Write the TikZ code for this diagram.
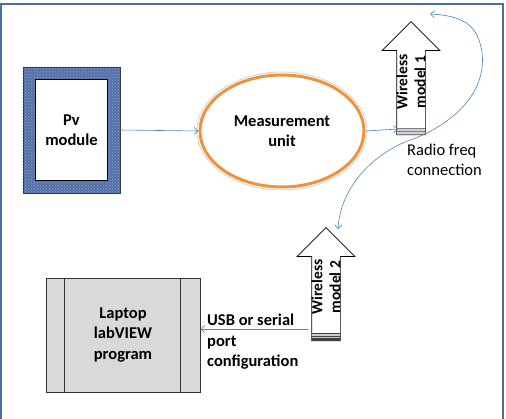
\documentclass[tikz,border=0pt]{standalone}
\usepackage{fontspec}
\setmainfont{Carlito}
\usetikzlibrary{arrows.meta,patterns,shapes.geometric,shapes.arrows,calc,positioning}
\definecolor{linkblue}{HTML}{4F81BD}
\definecolor{framblue}{HTML}{4A6FA0}
\definecolor{pvblue}{HTML}{5470A8}
\definecolor{pvdots}{HTML}{8FA4CE}
\definecolor{muorange}{HTML}{F0923C}
\definecolor{lapgray}{HTML}{D9D9D9}
\tikzset{>={Straight Barb[length=4pt,width=7pt]}}
\tikzset{
  link/.style={draw=linkblue,line width=0.6pt},
  lbl/.style={font=\fontsize{16.5}{20.5}\selectfont\bfseries,align=center,inner sep=0pt},
  pvframe/.style={draw=black!80,line width=0.8pt,fill=pvblue,minimum width=97pt,minimum height=126pt,inner sep=0pt},
  pvinner/.style={draw=black,line width=0.8pt,fill=white,minimum width=72pt,minimum height=101pt,inner sep=0pt},
  munit/.style={ellipse,draw=muorange,line width=3pt,minimum width=164pt,minimum height=112pt,inner sep=0pt},
  laptop/.style={draw=black!80,line width=0.7pt,fill=lapgray,minimum width=154pt,minimum height=114pt,inner sep=0pt},
  wireless/.style={single arrow,draw=black,line width=0.7pt,fill=white,rotate=90,
    inner xsep=0pt,inner ysep=14pt,minimum height=113pt,minimum width=57pt,
    single arrow head extend=14.5pt,single arrow tip angle=90},
  wtext/.style={font=\fontsize{15.5}{18}\selectfont\bfseries,align=center,rotate=90,inner sep=0pt}
}
\begin{document}
\begin{tikzpicture}[x=1pt,y=-1pt]
  \useasboundingbox (0,0) rectangle (506,418);
  % Frame
  \draw[framblue,line width=1.4pt] (1,4) rectangle (503,422);
  % Pv module
  \node[pvframe] (pv) at (71.5,130) {};
  \fill[pattern=crosshatch dots,pattern color=pvdots] (pv.south west) rectangle (pv.north east);
  \node[pvinner,lbl] (pvin) at (pv.center) {Pv\\module};
  % Measurement unit
  \node[draw=black!15,ellipse,line width=1pt,minimum width=170pt,minimum height=118pt] at (282,131) {};
  \node[munit,lbl] (mu) at (282,131) {Measurement\\unit};
  % Wireless models
  \node[wireless,anchor=tail] (w1) at (411,135) {};
  \fill[gray!35] ($(w1.tail)+(-14,-7)$) rectangle ($(w1.tail)+(14,0)$);
  \foreach \d in {-7,-4,-1}
    \draw[gray,line width=0.8pt] ($(w1.tail)+(-14,\d)$) -- ++(28,0);
  \node[wtext] (w1txt) at (411,82) {Wireless\\model 1};
  \node[wireless,anchor=tail] (w2) at (326,341) {};
  \fill[black!20] ($(w2.tail)+(-14,-8)$) rectangle ($(w2.tail)+(14,0)$);
  \foreach \d in {-7.5,-4.5,-2,-0.8}
    \draw[black!75,line width=1.1pt] ($(w2.tail)+(-14,\d)$) -- ++(28,0);
  \node[wtext] (w2txt) at (326,287) {Wireless\\model 2};
  % Laptop
  \node[laptop] (lap) at (123,335) {};
  \draw[black!80,line width=0.7pt] ($(lap.north west)+(19,0)$) -- ($(lap.south west)+(19,0)$);
  \draw[black!80,line width=0.7pt] ($(lap.north east)+(-20,0)$) -- ($(lap.south east)+(-20,0)$);
  \node[lbl] (laptxt) at (lap.center) {Laptop\\labVIEW\\program};
  % Connections
  \coordinate (w1in) at ($(w1.tail)+(-13,-6)$);
  \coordinate (w2out) at ($(w2.tail)+(-18,-12)$);
  \coordinate (rftop) at (430,14);
  \coordinate (rfbot) at ($(w2.tip)+(12,2)$);
  \draw[link,->] (pv.east) -- (mu.west);
  \draw[link,->] (mu.east) -- (w1in);
  \draw[link,->] (w2out) -- (lap.east |- w2out);
  \draw[link,<->] (rftop) .. controls (470,16) and (478,30) .. (482,52)
    .. controls (488,100) and (440,130) .. (410,140)
    .. controls (370,155) and (340,190) .. (rfbot);
  % Labels
  \node[font=\fontsize{16.5}{20.5}\selectfont,align=left,inner sep=0pt,anchor=west] (rftxt) at (407,160) {Radio freq\\connection};
  \node[lbl,align=left,anchor=west] (usbtxt) at (207,342) {USB or serial\\port\\configuration};
\end{tikzpicture}
\end{document}
